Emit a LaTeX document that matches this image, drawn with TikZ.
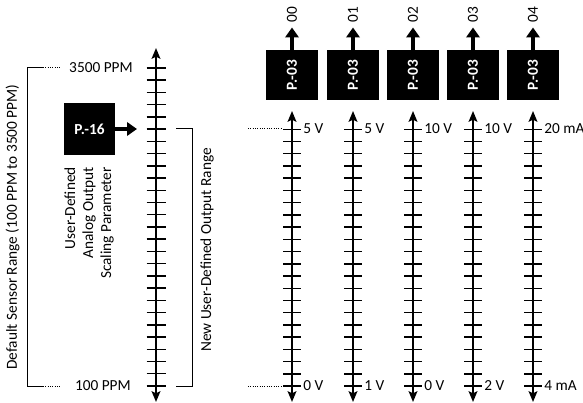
\documentclass[tikz,border=0pt]{standalone}
\usepackage{fontspec}
\setmainfont{Carlito}
\usetikzlibrary{arrows.meta}

\tikzset{
  axisline/.style={line width=1.4pt, {Stealth[length=8pt,width=6.5pt,inset=1.5pt]}-{Stealth[length=8pt,width=6.5pt,inset=1.5pt]}},
  tickline/.style={line width=1.1pt},
  pbox/.style={fill=black, text=white, font=\lblfont\bfseries, inner sep=0pt},
  fatarrow/.style={line width=3.4pt, -{Triangle[length=7.5pt,width=10pt]}},
  bracket/.style={line width=0.75pt},
  guide/.style={line width=0.75pt, densely dotted}
}
\newcommand\lblfont{\fontsize{11.5}{13.5}\selectfont}

\begin{document}
\begin{tikzpicture}[x=0.75pt, y=-0.75pt, font=\lblfont]
\useasboundingbox (0,0) rectangle (583,403);

% Sensor scale
\draw[axisline] (156,48) -- (156,402);
\foreach \i in {0,...,26} \draw[tickline] (146.5,{68+12.23*\i}) -- ++(19,0);
\node[anchor=east, inner sep=0pt] (top) at (133,68) {3500 PPM};
\node[anchor=east, inner sep=0pt] (bot) at (131,386) {100 PPM};

% Default range bracket
\draw[bracket] (43,68) -| (27,386) -- (43,386);
\draw[guide] (43,68) -- (60,68);
\draw[guide] (43,386) -- (60,386);
\node[rotate=90] (sensor) at (12.5,227) {Default Sensor Range (100 PPM to 3500 PPM)};

% Scaling parameter
\node[pbox, minimum width=38pt, minimum height=39pt] (p16) at (89.5,129) {P.-16};
\coordinate (scalein) at (137,129);
\draw[fatarrow] (p16.east) -- (scalein);
\node[rotate=90, anchor=east, align=right, inner sep=0pt] (scaling) at (89,167)
  {User-Defined\\Analog Output\\Scaling Parameter};

% New output range bracket
\draw[bracket] (176,129) -| (192,386) -- (176,386);
\node[rotate=90] (newrange) at (207,250) {New User-Defined Output Range};

% Output scales
\foreach \x/\n/\hi/\lo in {292/0/5 V/0 V, 353/1/5 V/1 V, 413/2/10 V/0 V, 473/3/10 V/2 V, 533/4/20 mA/4 mA} {
  \draw[axisline] (\x,111) -- (\x,402);
  \foreach \i in {0,...,21} \draw[tickline] (\x-9,{129.3+12.23*\i}) -- ++(18,0);
  \node[anchor=west, inner sep=0pt] (hi\n) at (\x+11,129) {\hi};
  \node[anchor=west, inner sep=0pt] (lo\n) at (\x+11,386) {\lo};
  \node[pbox, minimum width=39pt, minimum height=37.5pt] (p\n) at (\x,75) {\rotatebox{90}{P.-03}};
  \node[rotate=90, inner sep=0pt] (out\n) at (\x,15) {0\n};
  \draw[fatarrow] (p\n.north) -- (\x,27.5);
}
\draw[guide] (248,129) -- (283,129);
\draw[guide] (248,386) -- (283,386);

\end{tikzpicture}
\end{document}
